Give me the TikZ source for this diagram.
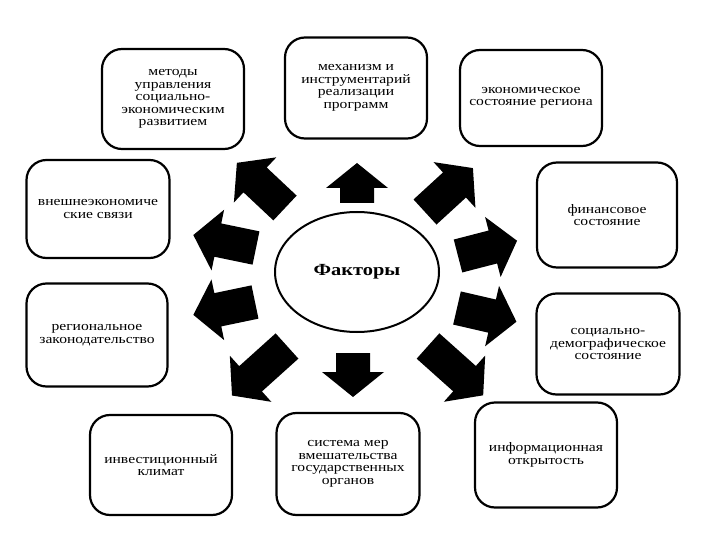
\documentclass[tikz,border=0pt]{standalone}
\usepackage{fontspec}
\setmainfont{Liberation Serif}[FakeStretch=1.2]
\usetikzlibrary{shapes.geometric}
\tikzset{
  factorbox/.style={draw=black, line width=2.2pt, rounded corners=20pt, align=center,
    inner sep=2pt, font=\fontsize{13}{12.5}\selectfont},
  barrow/.pic={\fill[black] (0,-17) -- (#1-25,-17) -- (#1-25,-31) -- (#1,0) -- (#1-25,31) -- (#1-25,17) -- (0,17) -- cycle;}
}
\begin{document}
\begin{tikzpicture}[x=1pt,y=-1pt]
\useasboundingbox[fill=white] (0,0) rectangle (720,540);
% centre
\node[draw=black, line width=2pt, ellipse, minimum width=164pt, minimum height=120pt,
  font=\fontsize{17}{17}\selectfont\bfseries] (f) at (357,272) {Факторы};
% boxes
\node[factorbox, minimum width=142pt, minimum height=100pt] (b1) at (173,99)
  {методы\\управления\\социально-\\экономическим\\развитием};
\node[factorbox, minimum width=142pt, minimum height=101pt] (b2) at (356,88)
  {механизм и\\инструментарий\\реализации\\программ};
\node[factorbox, minimum width=142pt, minimum height=96pt] (b3) at (531,98)
  {экономическое\\состояние региона};
\node[factorbox, minimum width=143pt, minimum height=98pt] (b4) at (98,209)
  {внешнеэкономиче\\ские связи};
\node[factorbox, minimum width=140pt, minimum height=105pt] (b5) at (607,215)
  {финансовое\\состояние};
\node[factorbox, minimum width=141pt, minimum height=103pt] (b6) at (97,335)
  {региональное\\законодательство};
\node[factorbox, minimum width=143pt, minimum height=101pt] (b7) at (608,344)
  {социально-\\демографическое\\состояние};
\node[factorbox, minimum width=142pt, minimum height=100pt] (b8) at (161,465)
  {инвестиционный\\климат};
\node[factorbox, minimum width=143pt, minimum height=102pt] (b9) at (348,464)
  {система мер\\вмешательства\\государственных\\органов};
\node[factorbox, minimum width=142pt, minimum height=105pt] (b10) at (546,455)
  {информационная\\открытость};
% block arrows
\pic[rotate=90] at (357,203) {barrow=40};
\pic[rotate=42.5] at (425,212) {barrow=65};
\pic[rotate=136.8] at (285,208) {barrow=66};
\pic[rotate=168.3] at (256,248) {barrow=64};
\pic[rotate=191.8] at (255,302) {barrow=63};
\pic[rotate=222] at (287,346) {barrow=74};
\pic[rotate=270] at (353,353) {barrow=44};
\pic[rotate=-41.8] at (428,346) {barrow=74};
\pic[rotate=-13] at (457,308) {barrow=61};
\pic[rotate=14.5] at (458,256) {barrow=61};
\end{tikzpicture}
\end{document}
